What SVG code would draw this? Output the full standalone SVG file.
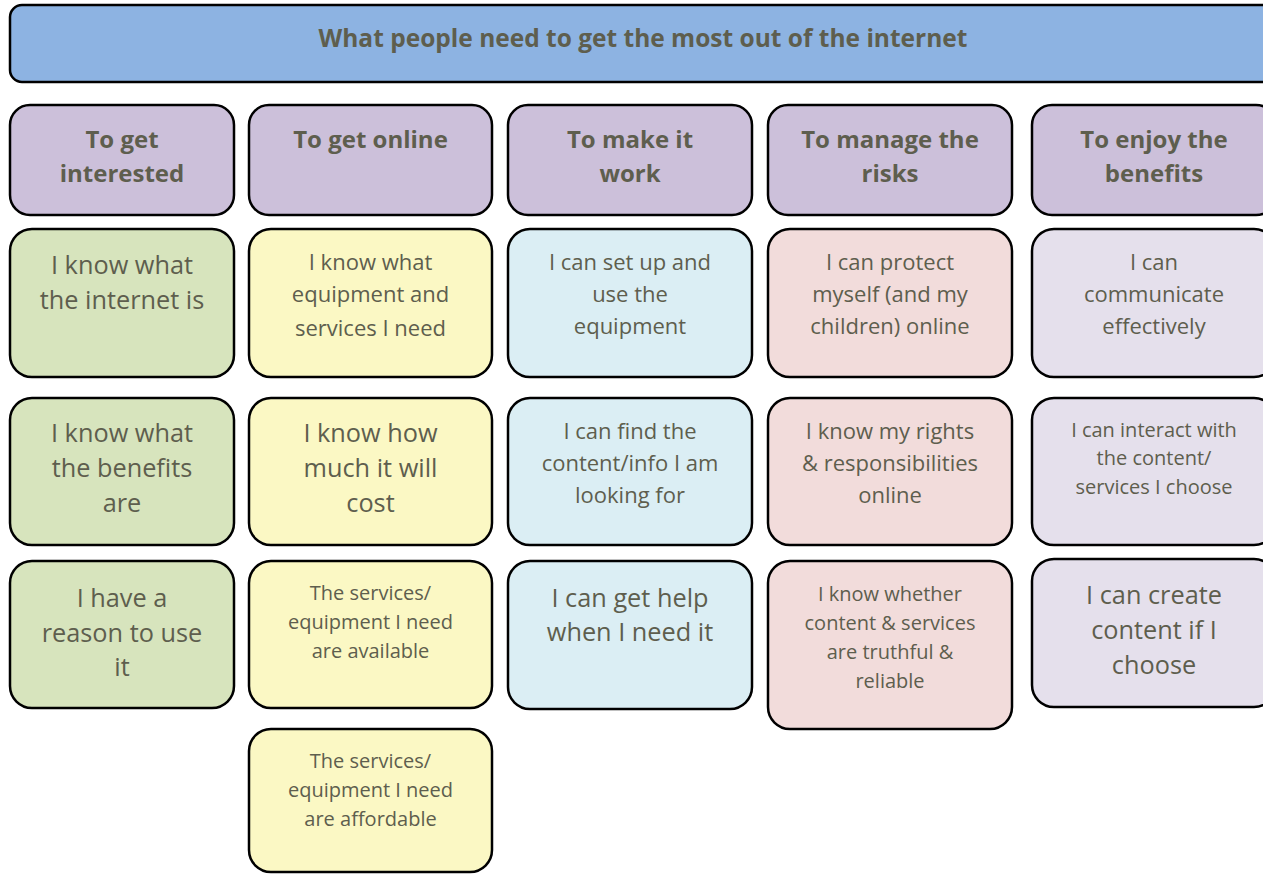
<svg xmlns="http://www.w3.org/2000/svg" width="1263" height="874" viewBox="0 0 1263 874">
  <style>
    .box { stroke: #000; stroke-width: 2.5; }
    .head { fill: #8DB3E2; }
    .cat { fill: #CCC0DA; }
    .green { fill: #D7E4BD; }
    .yellow { fill: #FBF8C4; }
    .blue { fill: #DBEEF4; }
    .pink { fill: #F2DCDB; }
    .lav { fill: #E5E0EC; }
    text { font-family: "Open Sans", "Noto Sans", sans-serif; fill: #5E5E4E; text-anchor: middle; }
    .t-title { font-size: 24.5px; font-weight: bold; }
    .t-cat { font-size: 24px; font-weight: bold; }
    .t-l { font-size: 25.3px; }
    .t-m { font-size: 22px; }
    .t-s { font-size: 20px; }
  </style>
  <rect width="1263" height="874" fill="#fff"/>

  <!-- title bar -->
  <g id="title">
    <rect class="box head" x="10" y="5" width="1270" height="77" rx="12"/>
    <text class="t-title" x="643" y="47">What people need to get the most out of the internet</text>
  </g>

  <!-- category headings -->
  <g id="cat-interested">
    <rect class="box cat" x="10" y="105" width="224" height="110" rx="20"/>
    <text class="t-cat" x="122" y="148">To get</text>
    <text class="t-cat" x="122" y="182">interested</text>
  </g>
  <g id="cat-online">
    <rect class="box cat" x="249" y="105" width="243" height="110" rx="20"/>
    <text class="t-cat" x="370.5" y="148">To get online</text>
  </g>
  <g id="cat-work">
    <rect class="box cat" x="508" y="105" width="244" height="110" rx="20"/>
    <text class="t-cat" x="630" y="148">To make it</text>
    <text class="t-cat" x="630" y="182">work</text>
  </g>
  <g id="cat-risks">
    <rect class="box cat" x="768" y="105" width="244" height="110" rx="20"/>
    <text class="t-cat" x="890" y="148">To manage the</text>
    <text class="t-cat" x="890" y="182">risks</text>
  </g>
  <g id="cat-benefits">
    <rect class="box cat" x="1032" y="105" width="244" height="110" rx="20"/>
    <text class="t-cat" x="1154" y="148">To enjoy the</text>
    <text class="t-cat" x="1154" y="182">benefits</text>
  </g>

  <!-- column 1: interest -->
  <g id="know-internet">
    <rect class="box green" x="10" y="229" width="224" height="148" rx="22"/>
    <text class="t-l" x="122" y="274">I know what</text>
    <text class="t-l" x="122" y="309">the internet is</text>
  </g>
  <g id="know-benefits">
    <rect class="box green" x="10" y="398" width="224" height="147" rx="22"/>
    <text class="t-l" x="122" y="442">I know what</text>
    <text class="t-l" x="122" y="477">the benefits</text>
    <text class="t-l" x="122" y="512">are</text>
  </g>
  <g id="have-reason">
    <rect class="box green" x="10" y="561" width="224" height="147" rx="22"/>
    <text class="t-l" x="122" y="607">I have a</text>
    <text class="t-l" x="122" y="642">reason to use</text>
    <text class="t-l" x="122" y="676">it</text>
  </g>

  <!-- column 2: access -->
  <g id="know-equipment">
    <rect class="box yellow" x="249" y="229" width="243" height="148" rx="22"/>
    <text class="t-m" x="370.5" y="270">I know what</text>
    <text class="t-m" x="370.5" y="302">equipment and</text>
    <text class="t-m" x="370.5" y="336">services I need</text>
  </g>
  <g id="know-cost">
    <rect class="box yellow" x="249" y="398" width="243" height="147" rx="22"/>
    <text class="t-l" x="370.5" y="442">I know how</text>
    <text class="t-l" x="370.5" y="477">much it will</text>
    <text class="t-l" x="370.5" y="512">cost</text>
  </g>
  <g id="available">
    <rect class="box yellow" x="249" y="561" width="243" height="147" rx="22"/>
    <text class="t-s" x="370.5" y="600">The services/</text>
    <text class="t-s" x="370.5" y="629">equipment I need</text>
    <text class="t-s" x="370.5" y="658">are available</text>
  </g>
  <g id="affordable">
    <rect class="box yellow" x="249" y="729" width="243" height="143" rx="22"/>
    <text class="t-s" x="370.5" y="768">The services/</text>
    <text class="t-s" x="370.5" y="797">equipment I need</text>
    <text class="t-s" x="370.5" y="826">are affordable</text>
  </g>

  <!-- column 3: skills -->
  <g id="set-up">
    <rect class="box blue" x="508" y="229" width="244" height="148" rx="22"/>
    <text class="t-m" x="630" y="270">I can set up and</text>
    <text class="t-m" x="630" y="302">use the</text>
    <text class="t-m" x="630" y="334">equipment</text>
  </g>
  <g id="find-content">
    <rect class="box blue" x="508" y="398" width="244" height="147" rx="22"/>
    <text class="t-m" x="630" y="439">I can find the</text>
    <text class="t-m" x="630" y="471">content/info I am</text>
    <text class="t-m" x="630" y="503">looking for</text>
  </g>
  <g id="get-help">
    <rect class="box blue" x="508" y="561" width="244" height="148" rx="22"/>
    <text class="t-l" x="630" y="607">I can get help</text>
    <text class="t-l" x="630" y="641">when I need it</text>
  </g>

  <!-- column 4: risks -->
  <g id="protect">
    <rect class="box pink" x="768" y="229" width="244" height="148" rx="22"/>
    <text class="t-m" x="890" y="270">I can protect</text>
    <text class="t-m" x="890" y="302">myself (and my</text>
    <text class="t-m" x="890" y="334">children) online</text>
  </g>
  <g id="rights">
    <rect class="box pink" x="768" y="398" width="244" height="147" rx="22"/>
    <text class="t-m" x="890" y="439">I know my rights</text>
    <text class="t-m" x="890" y="471">&amp; responsibilities</text>
    <text class="t-m" x="890" y="503">online</text>
  </g>
  <g id="truthful">
    <rect class="box pink" x="768" y="561" width="244" height="168" rx="22"/>
    <text class="t-s" x="890" y="601">I know whether</text>
    <text class="t-s" x="890" y="630">content &amp; services</text>
    <text class="t-s" x="890" y="659">are truthful &amp;</text>
    <text class="t-s" x="890" y="688">reliable</text>
  </g>

  <!-- column 5: benefits -->
  <g id="communicate">
    <rect class="box lav" x="1032" y="229" width="244" height="148" rx="22"/>
    <text class="t-m" x="1154" y="270">I can</text>
    <text class="t-m" x="1154" y="302">communicate</text>
    <text class="t-m" x="1154" y="334">effectively</text>
  </g>
  <g id="interact">
    <rect class="box lav" x="1032" y="398" width="244" height="147" rx="22"/>
    <text class="t-s" x="1154" y="437">I can interact with</text>
    <text class="t-s" x="1154" y="465">the content/</text>
    <text class="t-s" x="1154" y="494">services I choose</text>
  </g>
  <g id="create">
    <rect class="box lav" x="1032" y="559" width="244" height="148" rx="22"/>
    <text class="t-l" x="1154" y="604">I can create</text>
    <text class="t-l" x="1154" y="639">content if I</text>
    <text class="t-l" x="1154" y="674">choose</text>
  </g>
</svg>
